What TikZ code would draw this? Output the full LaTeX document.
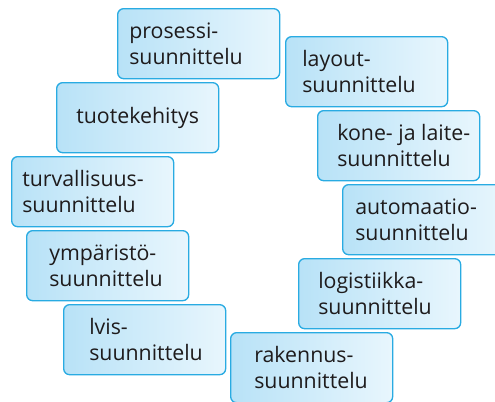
\documentclass[tikz,border=0pt]{standalone}
\usepackage{fontspec}
\setmainfont{Open Sans}
\usetikzlibrary{positioning}

\definecolor{reuna}{RGB}{41,171,226}
\definecolor{tayttoA}{RGB}{184,226,247}
\definecolor{tayttoB}{RGB}{232,246,253}
\definecolor{teksti}{RGB}{30,27,28}

\tikzset{
  ruutu/.style={draw=reuna, line width=1pt, rounded corners=4.5pt,
    left color=tayttoA, right color=tayttoB,
    minimum width=121.5pt, minimum height=52.5pt, anchor=north west, inner sep=0pt},
  sana/.style={text=teksti, font=\fontsize{16}{19.5}\selectfont,
    align=left, inner sep=0pt}
}

\begin{document}
\begin{tikzpicture}[x=0.75pt,y=0.75pt,yscale=-1,xscale=1]
        \useasboundingbox (0,0) rectangle (495,401);

        % Boxes
        \node [ruutu] (prosessi) at (117,8) {};
        \node [ruutu] (layout) at (285,36) {};
        \node [ruutu] (tuote) at (56,82) {};
        \node [ruutu] (kone) at (317,110) {};
        \node [ruutu] (turva) at (11,156) {};
        \node [ruutu] (automaatio) at (342,184) {};
        \node [ruutu] (ymparisto) at (26,230) {};
        \node [ruutu] (logistiikka) at (298,258) {};
        \node [ruutu] (lvis) at (63,304) {};
        \node [ruutu] (rakennus) at (230,332) {};

        % Text Nodes
        \node [sana, right=9pt of prosessi.west] (prosessiT) {prosessi-\\suunnittelu};
        \node [sana, right=12.75pt of layout.west] (layoutT) {layout-\\suunnittelu};
        \node [sana] (tuoteT) at (tuote.center) {tuotekehitys};
        \node [sana, right=15pt of kone.west] (koneT) {kone- ja laite-\\suunnittelu};
        \node [sana, right=8.25pt of turva.west] (turvaT) {turvallisuus-\\suunnittelu};
        \node [sana, right=9.75pt of automaatio.west] (automaatioT) {automaatio-\\suunnittelu};
        \node [sana, right=17.25pt of ymparisto.west] (ymparistoT) {ympäristö-\\suunnittelu};
        \node [sana, right=15pt of logistiikka.west] (logistiikkaT) {logistiikka-\\suunnittelu};
        \node [sana, right=19.5pt of lvis.west] (lvisT) {lvis-\\suunnittelu};
        \node [sana, right=18pt of rakennus.west] (rakennusT) {rakennus-\\suunnittelu};

\end{tikzpicture}
\end{document}
